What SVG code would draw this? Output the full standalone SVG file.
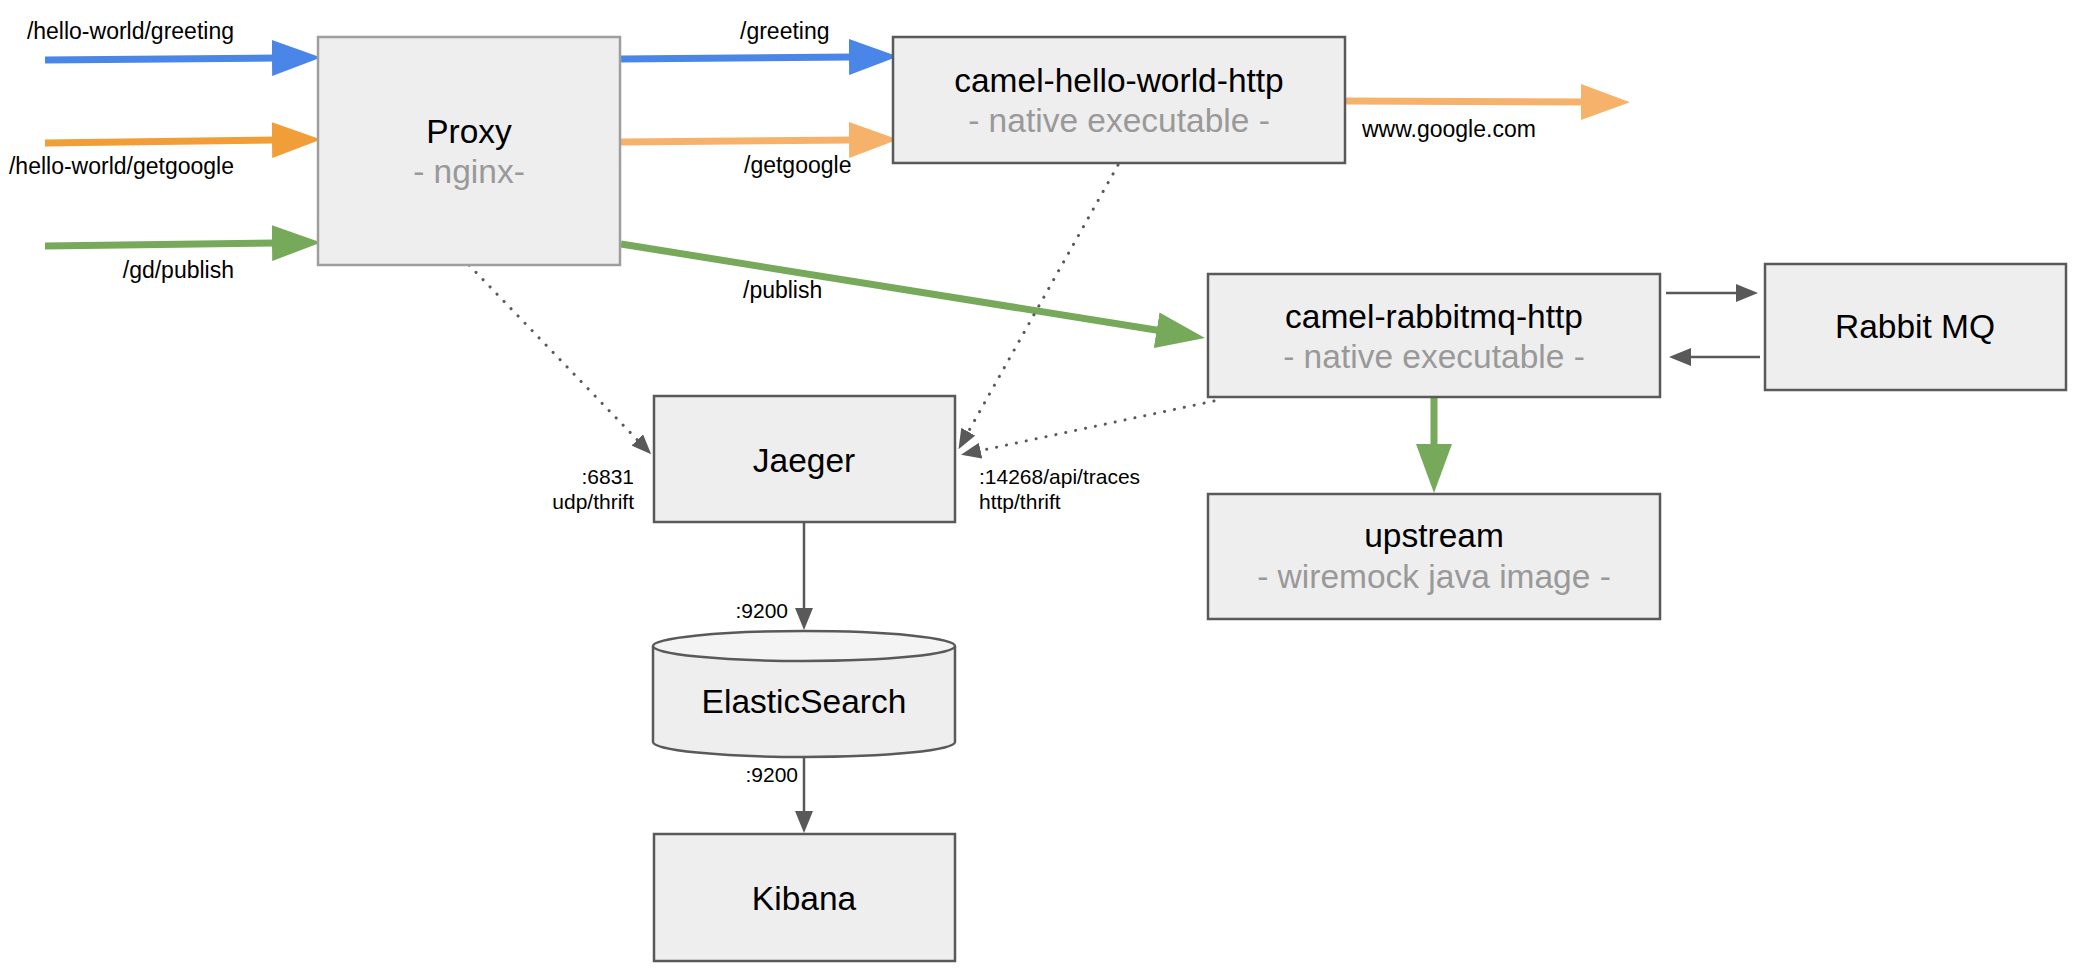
<svg xmlns="http://www.w3.org/2000/svg" width="2076" height="968" viewBox="0 0 2076 968">
<style>
.box{fill:#eeeeee;stroke:#595959;stroke-width:2.5}
.boxl{fill:#eeeeee;stroke:#9e9e9e;stroke-width:2.5}
.t{font-family:"Liberation Sans",Arial,sans-serif;font-size:33.5px;fill:#000;text-anchor:middle}
.s{font-family:"Liberation Sans",Arial,sans-serif;font-size:33.5px;fill:#999999;text-anchor:middle}
.l{font-family:"Liberation Sans",Arial,sans-serif;font-size:23px;fill:#000}
.p{font-family:"Liberation Sans",Arial,sans-serif;font-size:21px;fill:#000}
.thick{fill:none;stroke-width:7}
.gray{fill:none;stroke:#595959;stroke-width:2.5}
.dot{fill:none;stroke:#595959;stroke-width:3;stroke-dasharray:0.1 10;stroke-linecap:round}
</style>
<defs>
<marker id="mBlue" markerUnits="userSpaceOnUse" viewBox="0 0 49 36" markerWidth="49" markerHeight="36" refX="4" refY="18" orient="auto"><path d="M0,0 L49,18 L0,36 Z" fill="#4a86e8"/></marker>
<marker id="mOrD" markerUnits="userSpaceOnUse" viewBox="0 0 49 36" markerWidth="49" markerHeight="36" refX="4" refY="18" orient="auto"><path d="M0,0 L49,18 L0,36 Z" fill="#f19e38"/></marker>
<marker id="mOrL" markerUnits="userSpaceOnUse" viewBox="0 0 49 36" markerWidth="49" markerHeight="36" refX="4" refY="18" orient="auto"><path d="M0,0 L49,18 L0,36 Z" fill="#f6b26b"/></marker>
<marker id="mGreen" markerUnits="userSpaceOnUse" viewBox="0 0 49 36" markerWidth="49" markerHeight="36" refX="4" refY="18" orient="auto"><path d="M0,0 L49,18 L0,36 Z" fill="#76a95a"/></marker>
<marker id="mGray" markerUnits="userSpaceOnUse" viewBox="0 0 22 18" markerWidth="22" markerHeight="18" refX="2" refY="9" orient="auto"><path d="M0,0 L22,9 L0,18 Z" fill="#595959"/></marker>
<marker id="mDot" markerUnits="userSpaceOnUse" viewBox="0 0 20 16" markerWidth="20" markerHeight="16" refX="1" refY="8" orient="auto"><path d="M0,0 L20,8 L0,16 Z" fill="#595959"/></marker>
</defs>

<g id="connectors">
<path class="thick" stroke="#4a86e8" d="M45,60 L276,58" marker-end="url(#mBlue)"/>
<path class="thick" stroke="#f19e38" d="M45,143 L276,140" marker-end="url(#mOrD)"/>
<path class="thick" stroke="#76a95a" d="M45,246 L276,243" marker-end="url(#mGreen)"/>
<path class="thick" stroke="#4a86e8" d="M621,59 L853,57" marker-end="url(#mBlue)"/>
<path class="thick" stroke="#f6b26b" d="M621,142 L853,140" marker-end="url(#mOrL)"/>
<path class="thick" stroke="#f6b26b" d="M1345,101 L1585,102" marker-end="url(#mOrL)"/>
<path class="thick" stroke="#76a95a" d="M621,244 L1160.6,330.8" marker-end="url(#mGreen)"/>
<path class="thick" stroke="#76a95a" d="M1434,397 L1434,448" marker-end="url(#mGreen)"/>
<path class="gray" d="M804,522 L804,610" marker-end="url(#mGray)"/>
<path class="gray" d="M804,757 L804,813" marker-end="url(#mGray)"/>
<path class="gray" d="M1666,293 L1738,293" marker-end="url(#mGray)"/>
<path class="gray" d="M1760,357 L1689,357" marker-end="url(#mGray)"/>
<path class="dot" d="M469,265 L638,440.6" marker-end="url(#mDot)"/>
<path class="dot" d="M1118,165 L967.8,432.6" marker-end="url(#mDot)"/>
<path class="dot" d="M1214,401 L979.6,450.8" marker-end="url(#mDot)"/>
<text class="l" x="234" y="39" text-anchor="end">/hello-world/greeting</text>
<text class="l" x="234" y="174" text-anchor="end">/hello-world/getgoogle</text>
<text class="l" x="234" y="278" text-anchor="end">/gd/publish</text>
<text class="l" x="740" y="39">/greeting</text>
<text class="l" x="744" y="173">/getgoogle</text>
<text class="l" x="1362" y="137">www.google.com</text>
<text class="l" x="743" y="298">/publish</text>
<text class="p" x="634" y="484" text-anchor="end">:6831</text>
<text class="p" x="634" y="509" text-anchor="end">udp/thrift</text>
<text class="p" x="979" y="484">:14268/api/traces</text>
<text class="p" x="979" y="509">http/thrift</text>
<text class="p" x="788" y="618" text-anchor="end">:9200</text>
<text class="p" x="798" y="782" text-anchor="end">:9200</text>
</g>

<g id="proxy">
<rect class="boxl" x="318" y="37" width="302" height="228"/>
<text class="t" x="469" y="143">Proxy</text>
<text class="s" x="469" y="183">- nginx-</text>
</g>
<g id="camel-hello-world-http">
<rect class="box" x="893" y="37" width="452" height="126"/>
<text class="t" x="1119" y="92">camel-hello-world-http</text>
<text class="s" x="1119" y="132">- native executable -</text>
</g>
<g id="camel-rabbitmq-http">
<rect class="box" x="1208" y="274" width="452" height="123"/>
<text class="t" x="1434" y="328">camel-rabbitmq-http</text>
<text class="s" x="1434" y="368">- native executable -</text>
</g>
<g id="rabbitmq">
<rect class="box" x="1765" y="264" width="301" height="126"/>
<text class="t" x="1915" y="338">Rabbit MQ</text>
</g>
<g id="upstream">
<rect class="box" x="1208" y="494" width="452" height="125"/>
<text class="t" x="1434" y="547">upstream</text>
<text class="s" x="1434" y="588">- wiremock java image -</text>
</g>
<g id="jaeger">
<rect class="box" x="654" y="396" width="301" height="126"/>
<text class="t" x="804" y="472">Jaeger</text>
</g>
<g id="elasticsearch">
<path class="box" d="M653,646 L653,742 A151,15 0 0 0 955,742 L955,646"/>
<ellipse cx="804" cy="646" rx="151" ry="15" fill="#f4f4f4" stroke="#595959" stroke-width="2.5"/>
<text class="t" x="804" y="713">ElasticSearch</text>
</g>
<g id="kibana">
<rect class="box" x="654" y="834" width="301" height="127"/>
<text class="t" x="804" y="910">Kibana</text>
</g>
</svg>
